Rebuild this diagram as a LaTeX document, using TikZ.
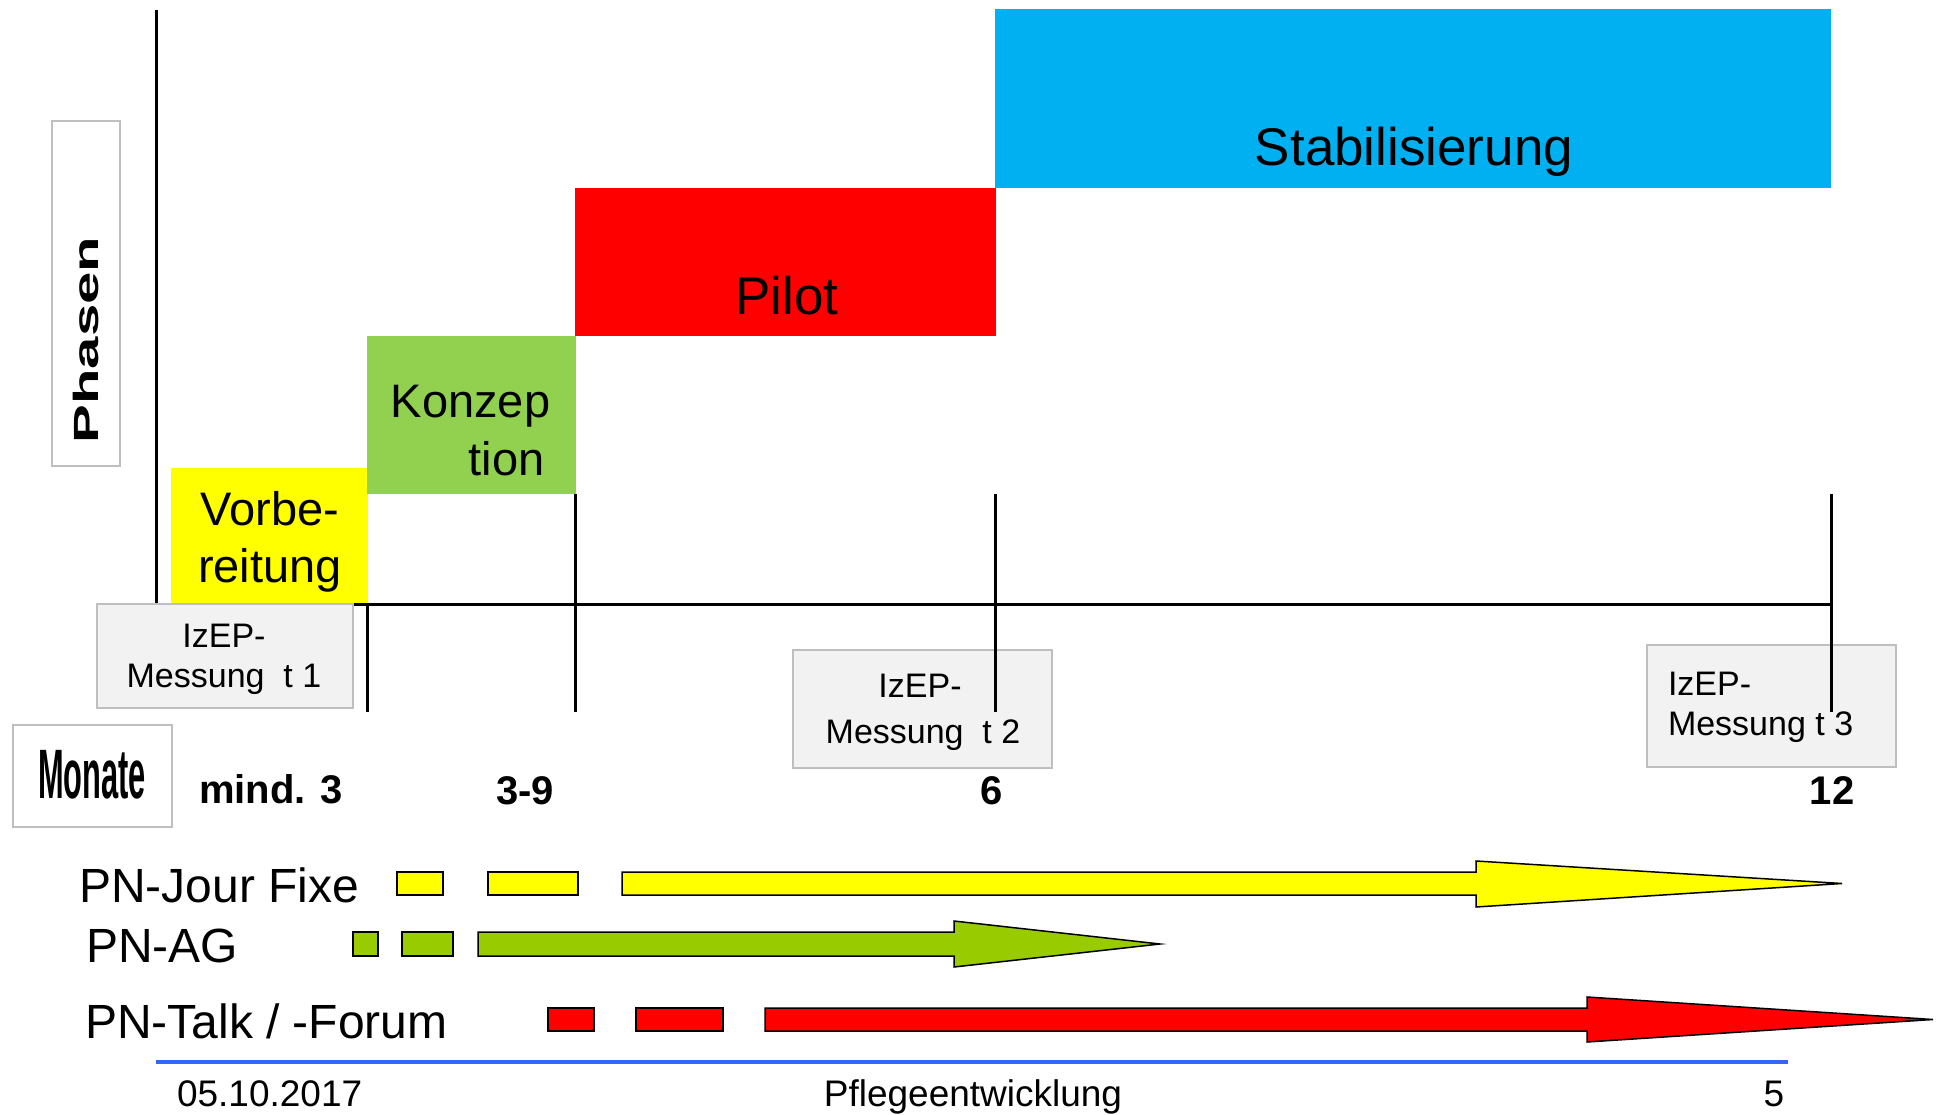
\documentclass[tikz,border=0pt]{standalone}
\usepackage{fontspec}
\setmainfont{Liberation Sans}
\definecolor{cyellow}{HTML}{FFFF00}
\definecolor{cgreen}{HTML}{92D050}
\definecolor{cred}{HTML}{FF0000}
\definecolor{cblue}{HTML}{00B0F0}
\definecolor{bargreen}{HTML}{99CC00}
\definecolor{boxgray}{HTML}{F2F2F2}
\definecolor{edgegray}{HTML}{BFBFBF}
\definecolor{footblue}{HTML}{3366FF}
\begin{document}
\begin{tikzpicture}[x=1pt,y=-1pt,
  txt/.style={inner sep=0pt,outer sep=0pt},
  phaselbl/.style={txt,font=\fontsize{53}{58}\selectfont,anchor=base},
  phaselblsm/.style={txt,font=\fontsize{47}{57}\selectfont,anchor=base},
  izepbox/.style={draw=edgegray,fill=boxgray,line width=2.5pt,inner sep=0pt},
  izeptxt/.style={txt,font=\fontsize{34}{40}\selectfont},
  numlbl/.style={txt,font=\fontsize{40}{48}\selectfont\bfseries,anchor=base},
  rowlbl/.style={txt,font=\fontsize{48}{52}\selectfont,anchor=base west},
  footlbl/.style={txt,font=\fontsize{37}{44}\selectfont},
  framebox/.style={draw=edgegray,fill=white,line width=2.5pt,inner sep=0pt},
  axisline/.style={line width=3pt,black},
  bar/.style={draw=black,line width=1.5pt,line join=miter}
]
\useasboundingbox (0,0) rectangle (1936,1115);

% phase blocks
\fill[cyellow] (171,468) rectangle (368,604);
\fill[cgreen] (367,336) rectangle (576,494);
\fill[cred] (575,188) rectangle (996,336);
\fill[cblue] (995,9) rectangle (1831,188);

\node[phaselbl] (stab) at (1414,166) {Stabilisierung};
\node[phaselbl] (pilot) at (787,315) {Pilot};
\node[phaselblsm] (konz1) at (470.5,417) {Konzep};
\node[phaselblsm] (konz2) at (506.5,475) {tion};
\node[phaselblsm] (vorb1) at (270,525) {Vorbe-};
\node[phaselblsm] (vorb2) at (270,582) {reitung};

% Phasen label box
\node[framebox,minimum width=68pt,minimum height=345pt] (phasenbox) at (86,293.5) {};
\node[txt,rotate=90,font=\fontsize{35}{40}\selectfont\bfseries] (phasen) at (86,340) {\scalebox{1.66}[1]{Phasen}};

% axes
\coordinate (ytop) at (156,10);
\coordinate (origin) at (156,604);
\coordinate (xend) at (1831,604);
\draw[axisline] (ytop) -- (156,605.5);
\draw[axisline] (origin) -- (xend);

% IzEP boxes
\node[izepbox,minimum width=256pt,minimum height=104pt] (izep1) at (225,656) {};
\node[izeptxt,anchor=base] (izep1a) at (224,647) {IzEP-};
\node[izeptxt,anchor=base] (izep1b) at (224,687) {Messung\ \ t 1};

\node[izepbox,minimum width=259pt,minimum height=118pt] (izep2) at (922.5,709) {};
\node[izeptxt,anchor=base] (izep2a) at (920,697) {IzEP-};
\node[izeptxt,anchor=base] (izep2b) at (923,743) {Messung\ \ t 2};

\node[izepbox,minimum width=249pt,minimum height=122pt] (izep3) at (1771.5,706) {};
\node[izeptxt,anchor=base west] (izep3a) at (1668,695) {IzEP-};
\node[izeptxt,anchor=base west] (izep3b) at (1668,735) {Messung t 3};

% tick lines
\coordinate (t1a) at (367,604); \coordinate (t1b) at (367,712);
\coordinate (t2a) at (575,494); \coordinate (t2b) at (575,712);
\coordinate (t3a) at (995,494); \coordinate (t3b) at (995,712);
\coordinate (t4a) at (1831,494); \coordinate (t4b) at (1831,712);
\draw[axisline] (t1a) -- (t1b);
\draw[axisline] (t2a) -- (t2b);
\draw[axisline] (t3a) -- (t3b);
\draw[axisline] (t4a) -- (t4b);

% Monate box
\node[framebox,minimum width=159pt,minimum height=102pt] (monatebox) at (92.5,776) {};
\node[txt,anchor=base,font=\fontsize{70}{70}\selectfont\bfseries] (monate) at (92,798) {\scalebox{0.44}[1]{Monate}};

% month numbers
\node[numlbl] (m3) at (271,803) {mind. 3};
\node[numlbl] (m39) at (525,804) {3-9};
\node[numlbl] (m6) at (992,804) {6};
\node[numlbl] (m12) at (1832,804) {12};

% row labels
\node[rowlbl] (jour) at (79,902) {PN-Jour Fixe};
\node[rowlbl] (ag) at (86,962) {PN-AG};
\node[rowlbl] (talk) at (85,1038) {PN-Talk / -Forum};

% yellow row
\draw[bar,fill=cyellow] (397,872) rectangle (443,895);
\draw[bar,fill=cyellow] (488,872) rectangle (578,895);
\draw[bar,fill=cyellow] (622,872) -- (1476,872) -- (1476,861) -- (1842,883.5) -- (1476,907) -- (1476,895) -- (622,895) -- cycle;
% green row
\draw[bar,fill=bargreen] (353,932) rectangle (378,956);
\draw[bar,fill=bargreen] (402,932) rectangle (453,956);
\draw[bar,fill=bargreen] (478,932) -- (954,932) -- (954,921) -- (1160,944) -- (954,967) -- (954,956) -- (478,956) -- cycle;
% red row
\draw[bar,fill=cred] (548,1008) rectangle (594,1031);
\draw[bar,fill=cred] (636,1008) rectangle (723,1031);
\draw[bar,fill=cred] (765,1008) -- (1587,1008) -- (1587,997) -- (1933,1019.5) -- (1587,1042) -- (1587,1031) -- (765,1031) -- cycle;

% footer
\coordinate (fl) at (156,1062);
\coordinate (fr) at (1788,1062);
\draw[footblue,line width=4pt] (fl) -- (fr);
\node[footlbl,anchor=base west] (date) at (177,1106) {05.10.2017};
\node[footlbl,anchor=base] (title) at (973,1106) {Pflegeentwicklung};
\node[footlbl,anchor=base] (page) at (1774,1106) {5};
\end{tikzpicture}
\end{document}
